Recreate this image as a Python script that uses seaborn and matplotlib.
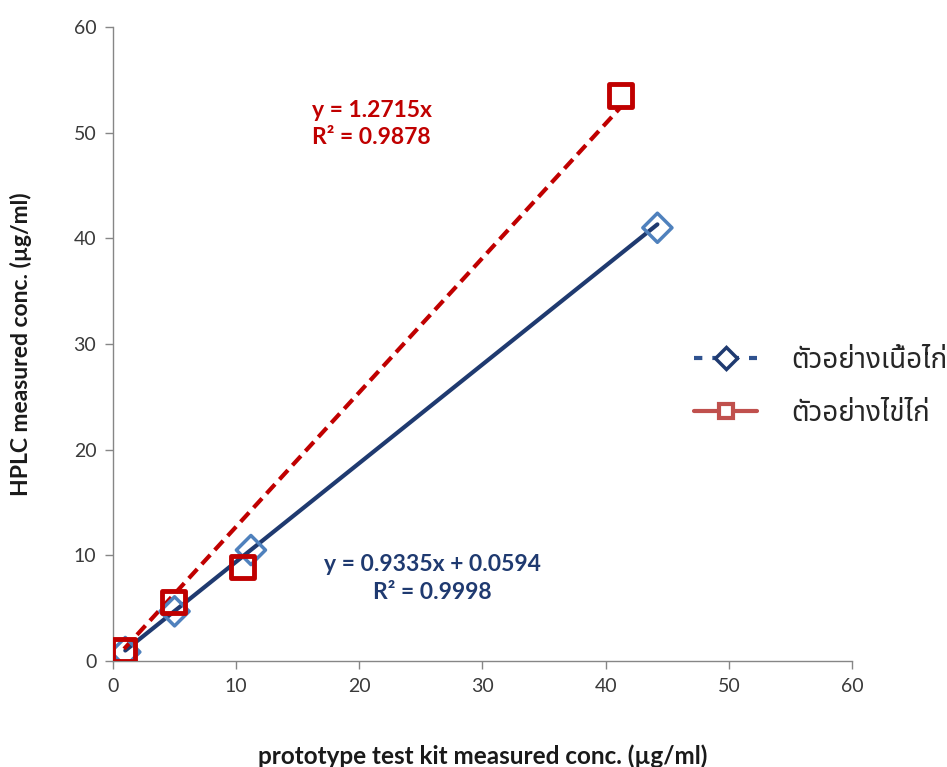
import matplotlib
matplotlib.use("Agg")
import matplotlib.pyplot as plt
from matplotlib.lines import Line2D
import seaborn as sns
import numpy as np
import pandas as pd

# Data
meat_x = [1.0, 5.0, 11.2, 44.2]
meat_y = [0.85, 4.7, 10.5, 41.0]
egg_x = [0.9, 4.9, 10.5, 41.2]
egg_y = [1.05, 5.6, 8.9, 53.5]
meat_fit = (0.9335, 0.0594)   # slope, intercept
egg_fit = (1.2715, 0.0)
meat_label = "ตัวอย่างเนื้อไก่"
egg_label = "ตัวอย่างไข่ไก่"
x_ticks = [0, 10, 20, 30, 40, 50, 60]
y_ticks = [0, 10, 20, 30, 40, 50, 60]

sns.set_style("white")
plt.rcParams['font.family'] = ['Lato', 'DejaVu Sans']

fig = plt.figure(figsize=(9.47, 7.67), dpi=100)
ax = fig.add_axes([0.1193, 0.1382, 0.7804, 0.8266])

navy = "#1F3A70"
lightblue = "#4F81BD"
red = "#C00000"

df_meat = pd.DataFrame({"x": meat_x, "y": meat_y})
df_egg = pd.DataFrame({"x": egg_x, "y": egg_y})

# trend lines
mx = np.array([min(meat_x), max(meat_x)])
ex = np.array([min(egg_x), max(egg_x)])
sns.lineplot(x=mx, y=meat_fit[0] * mx + meat_fit[1], ax=ax, color=navy, lw=3, zorder=3)
sns.lineplot(x=ex, y=egg_fit[0] * ex + egg_fit[1], ax=ax, color=red, lw=3, zorder=3,
             linestyle=(0, (3, 1.6)))

sns.scatterplot(data=df_meat, x="x", y="y", ax=ax, marker="D", s=220, facecolor="none",
                edgecolor=lightblue, linewidth=2.5, zorder=4)
sns.scatterplot(data=df_egg, x="x", y="y", ax=ax, marker="s", s=260, facecolor="none",
                edgecolor=red, linewidth=3.5, zorder=5)

ax.set_xlim(0, 60)
ax.set_ylim(0, 60)
ax.set_xticks(x_ticks)
ax.set_yticks(y_ticks)
ax.tick_params(axis="both", labelsize=14, colors="#3a3a3a", length=6, width=1,
               direction="out", bottom=True, left=True, color="#868686", pad=6)
for s in ["top", "right"]:
    ax.spines[s].set_visible(False)
for s in ["left", "bottom"]:
    ax.spines[s].set_color("#868686")
    ax.spines[s].set_linewidth(1)

ax.set_xlabel("prototype test kit measured conc. (µg/ml)", fontsize=17.5, fontweight="bold",
              color="#1a1a1a", labelpad=36)
ax.set_ylabel("HPLC measured conc. (µg/ml)", fontsize=16.5, fontweight="bold",
              color="#1a1a1a", labelpad=30)

ax.text(21.0, 50.8, "y = 1.2715x\nR² = 0.9878", color=red, fontsize=16.5, fontweight="bold",
        ha="center", va="center", linespacing=1.35)
ax.text(25.9, 7.8, "y = 0.9335x + 0.0594\nR² = 0.9998", color=navy, fontsize=16.5,
        fontweight="bold", ha="center", va="center", linespacing=1.4)

handles = [
    Line2D([0], [0], color="#2F528F", lw=3, linestyle=(0, (2.0, 2.4)), marker="D",
           markersize=11, markerfacecolor="white", markeredgecolor=navy, markeredgewidth=2.5),
    Line2D([0], [0], color="#C0504D", lw=3, linestyle="-", marker="s",
           markersize=10, markerfacecolor="white", markeredgecolor="#C0504D", markeredgewidth=3),
]
fig.legend(handles, [meat_label, egg_label], loc="center left",
           bbox_to_anchor=(0.706, 0.495), frameon=False, handlelength=2.3, handletextpad=1.2,
           labelspacing=0.9,
           prop={"family": ["Noto Sans Thai", "Loma", "Garuda", "DejaVu Sans"], "size": 20})

fig.savefig("out.png", dpi=100)
